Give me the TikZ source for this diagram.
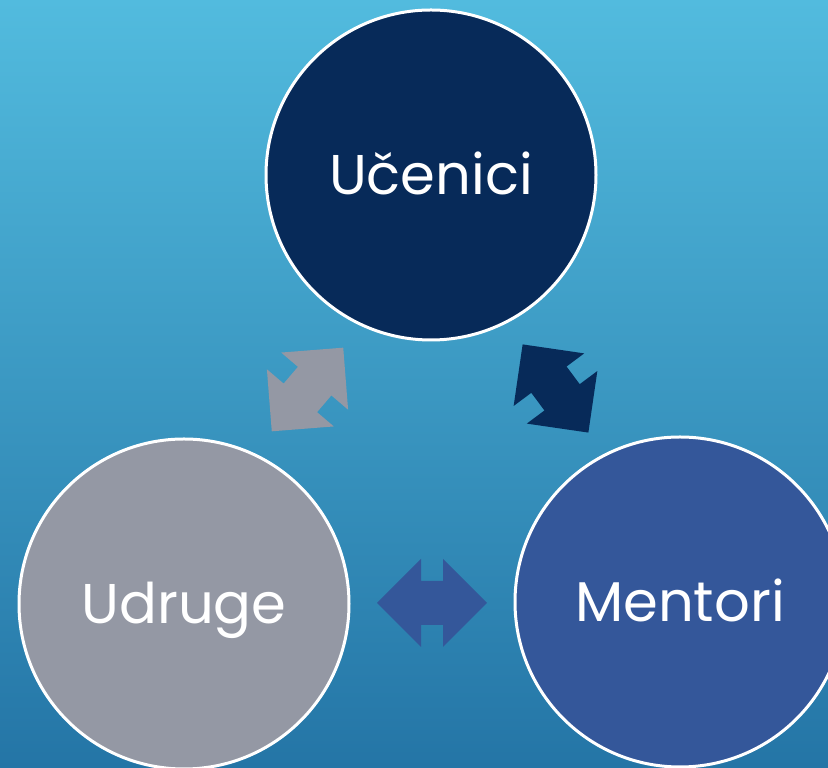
\documentclass[tikz,border=0pt]{standalone}
\usepackage{fontspec}
\setmainfont{Poppins}
\usetikzlibrary{calc}
\definecolor{bgtop}{HTML}{52BBDE}
\definecolor{bgmid}{HTML}{3B9BC6}
\definecolor{bgbot}{HTML}{2475A6}
\definecolor{navy}{HTML}{072A59}
\definecolor{slate}{HTML}{9498A4}
\definecolor{royal}{HTML}{34579A}
\tikzset{
	party/.style={circle,draw=white,line width=3pt,minimum size=330pt,inner sep=0pt,
		text=white,font=\fontsize{56}{60}\selectfont,text height=40pt,text depth=0pt},
	pics/dblarrow/.style={code={
		\fill[#1] (-55,0) -- (-11,44) -- (-11,22) -- (11,22) -- (11,44) -- (55,0)
			-- (11,-44) -- (11,-22) -- (-11,-22) -- (-11,-44) -- cycle;
	}}
}

\begin{document}
\begin{tikzpicture}[x=1pt,y=1pt]
	\useasboundingbox (0,0) rectangle (828,768);
	\clip (0,0) rectangle (828,768);
	\shade[top color=bgtop,middle color=bgmid,bottom color=bgbot] (0,0) rectangle (828,768);
	% the three partners
	\node[party,fill=navy]  (ucenici) at (431,593) {Učenici};
	\node[party,fill=slate] (udruge)  at (184,164) {Udruge};
	\node[party,fill=royal] (mentori) at (680,166) {Mentori};
	% two-way links
	\pic[rotate=49.5]  at ($(udruge)!0.5!(ucenici)$) {dblarrow=slate};
	\pic[rotate=-53.3] at ($(ucenici)!0.5!(mentori)$) {dblarrow=navy};
	\pic at ($(udruge)!0.5!(mentori)$) {dblarrow=royal};
\end{tikzpicture}
\end{document}
